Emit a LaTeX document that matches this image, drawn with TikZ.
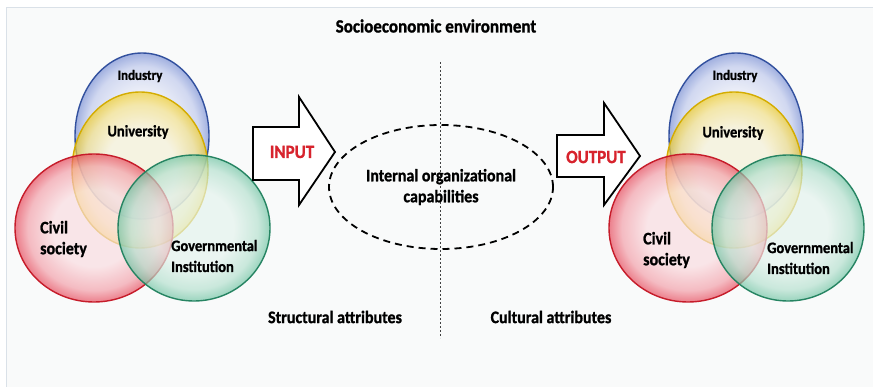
\documentclass[tikz,border=0pt]{standalone}
\usepackage{fontspec}
\setmainfont{Carlito}[BoldFeatures={FakeBold=1.2}]
\usetikzlibrary{calc}

% glass-like ring colours for the four spheres
\definecolor{bluein}{RGB}{232,235,248}\definecolor{bluemid}{RGB}{190,200,236}\definecolor{bluerim}{RGB}{120,142,212}\definecolor{blueline}{RGB}{50,80,158}
\definecolor{yelin}{RGB}{250,245,215}\definecolor{yelmid}{RGB}{247,228,135}\definecolor{yelrim}{RGB}{242,206,40}\definecolor{yelline}{RGB}{212,172,0}
\definecolor{redin}{RGB}{250,220,224}\definecolor{redmid}{RGB}{243,158,168}\definecolor{redrim}{RGB}{230,70,88}\definecolor{redline}{RGB}{198,28,42}
\definecolor{grnin}{RGB}{228,243,237}\definecolor{grnmid}{RGB}{180,224,206}\definecolor{grnrim}{RGB}{110,195,162}\definecolor{grnline}{RGB}{38,132,98}
\definecolor{framecol}{RGB}{218,225,232}
\definecolor{paper}{RGB}{249,250,250}
\definecolor{labelred}{RGB}{215,35,45}

\pgfdeclareradialshading{glassblue}{\pgfpoint{0bp}{0bp}}{color(0bp)=(bluein); color(13bp)=(bluein); color(21bp)=(bluemid); color(25bp)=(bluerim); color(50bp)=(bluerim)}
\pgfdeclareradialshading{glassyel}{\pgfpoint{0bp}{0bp}}{color(0bp)=(yelin); color(13bp)=(yelin); color(21bp)=(yelmid); color(25bp)=(yelrim); color(50bp)=(yelrim)}
\pgfdeclareradialshading{glassred}{\pgfpoint{0bp}{0bp}}{color(0bp)=(redin); color(13bp)=(redin); color(21bp)=(redmid); color(25bp)=(redrim); color(50bp)=(redrim)}
\pgfdeclareradialshading{glassgrn}{\pgfpoint{0bp}{0bp}}{color(0bp)=(grnin); color(13bp)=(grnin); color(21bp)=(grnmid); color(25bp)=(grnrim); color(50bp)=(grnrim)}

\tikzset{
  sphere/.style={shading=#1, fill opacity=0.68, draw opacity=1, line width=1.4pt},
  lbl/.style={font=\bfseries\fontsize{#1}{#1}\selectfont, text=black, inner sep=0pt, yscale=1.1},
  lbl2/.style={font=\bfseries\fontsize{#1}{19}\selectfont, text=black, inner sep=0pt, align=left, yscale=1.1},
  redlbl/.style={font=\bfseries\fontsize{17}{17}\selectfont, text=labelred, inner sep=0pt, yscale=1.1},
  bigarrow/.style={draw=black, fill=white, line width=1.8pt, line join=miter},
  capsule/.style={draw=black, line width=1.8pt, dash pattern=on 7pt off 5pt},
  divider/.style={draw=black!75, line width=0.8pt, dash pattern=on 2pt off 2pt},
}

\begin{document}
\begin{tikzpicture}[x=1pt,y=-1pt]
\useasboundingbox (0,0) rectangle (873,387);
\fill[white] (0,0) rectangle (873,387);
% panel
\fill[paper] (6,8) rectangle (873,387);
\draw[framecol, line width=1pt] (6,387) -- (6,8) -- (873,8);

% title
\node[lbl=17] (title) at (436,26) {Socioeconomic environment};

% dotted divider
\coordinate (divtop) at (440,62);
\coordinate (divbot) at (440,338);
\draw[divider] (divtop) -- (divbot);

% two Venn diagrams of the four spheres
\foreach \dx/\s in {0/l, 594/r}{
  \begin{scope}[xshift=\dx]
    \path[sphere=glassblue, draw=blueline] (142,136) ellipse [x radius=67pt, y radius=83pt];
    \path[sphere=glassyel, draw=yelline] (140,170) ellipse [x radius=68pt, y radius=78pt];
    \path[sphere=glassred, draw=redline] (94,228) ellipse [x radius=79pt, y radius=74pt];
    \path[sphere=glassgrn, draw=grnline] (194,228) ellipse [x radius=76pt, y radius=73pt];
  \end{scope}
}

% labels, left group
\node[lbl=13] (indL) at (140,76) {Industry};
\node[lbl=14.5] (uniL) at (138,132) {University};
\node[lbl2=16, anchor=west] (civL) at (40,239) {Civil\\society};
\node[lbl2=14.5, anchor=west] (govL) at (171,256) {Governmental\\Institution};

% labels, right group
\node[lbl=13] (indR) at (735,76) {Industry};
\node[lbl=14.5] (uniR) at (733,133) {University};
\node[lbl2=16, anchor=west] (civR) at (643,250) {Civil\\society};
\node[lbl2=14.5, anchor=west] (govR) at (767,258) {Governmental\\Institution};

% input arrow
\draw[bigarrow] (253,127) -- (299,127) -- (299,97) -- (335,152) -- (299,205) -- (299,180) -- (253,180) -- cycle;
\node[redlbl] (input) at (292,152) {INPUT};

% output arrow
\draw[bigarrow] (557,135) -- (604,135) -- (604,103) -- (640,156) -- (604,205) -- (604,177) -- (557,177) -- cycle;
\node[redlbl] (output) at (596,157) {OUTPUT};

% internal capabilities
\draw[capsule] (441,187) ellipse [x radius=112pt, y radius=62pt];
\node[lbl2=16, align=center] (core) at (441,187) {Internal organizational\\capabilities};

% attribute captions
\node[lbl=16] (struct) at (335,317) {Structural attributes};
\node[lbl=16] (cult) at (551,317) {Cultural attributes};
\end{tikzpicture}
\end{document}
